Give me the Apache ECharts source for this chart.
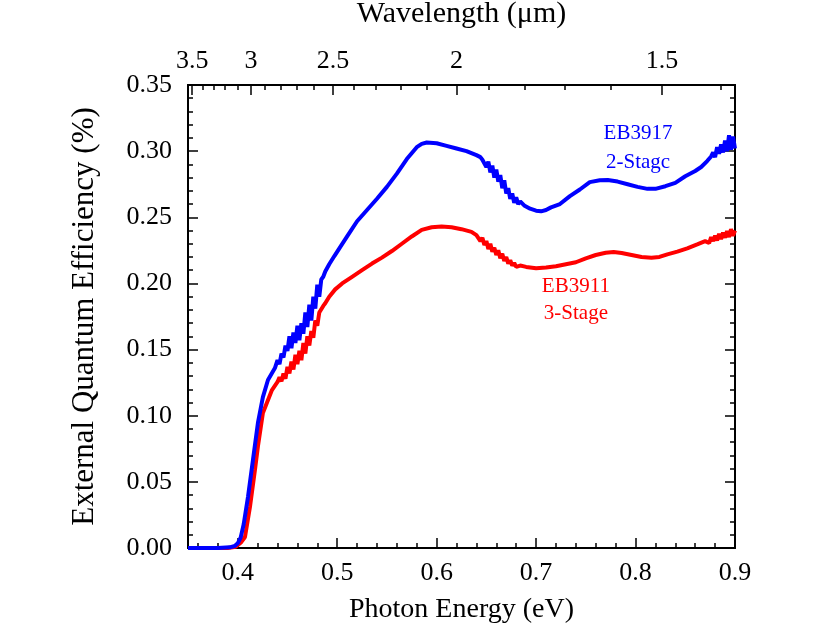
<!DOCTYPE html>
<html><head><meta charset="utf-8">
<script src="https://cdn.jsdelivr.net/npm/echarts@6/dist/echarts.min.js"></script>
<style>html,body{margin:0;padding:0;background:#fff}#c{width:840px;height:636px}</style>
</head><body><div id="c"></div>
<script>
// ---- tick definitions ----
const energyMajorTicks = [0.4, 0.5, 0.6, 0.7, 0.8, 0.9];
const energyMinorTicks = [0.36, 0.38, 0.42, 0.44, 0.46, 0.48, 0.52, 0.54, 0.56, 0.58, 0.62, 0.64, 0.66, 0.68, 0.72, 0.74, 0.76, 0.78, 0.82, 0.84, 0.86, 0.88];
const wavelengthMajor = [3.5, 3, 2.5, 2, 1.5];
const wavelengthMinor = [3.4, 3.3, 3.2, 3.1, 2.9, 2.8, 2.7, 2.6, 2.4, 2.3, 2.2, 2.1, 1.9, 1.8, 1.7, 1.6, 1.4];
const HC = 1.2398; // eV·µm

// ---- series data: [photon energy (eV), EQE (%)] ----
const eb3917 = [
[0.350,0.000],[0.380,0.000],[0.392,0.0005],[0.397,0.0015],[0.400,0.0035],[0.403,0.008],[0.406,0.018],
[0.4103,0.0385],[0.4153,0.0665],[0.4203,0.0945],[0.4253,0.1141],[0.4304,0.127],[0.4374,0.136],
[0.440,0.142],[0.442,0.139],[0.444,0.147],[0.446,0.144],[0.448,0.153],[0.450,0.149],[0.452,0.160],
[0.454,0.151],[0.456,0.163],[0.458,0.155],[0.460,0.168],[0.462,0.157],[0.464,0.170],[0.466,0.162],
[0.468,0.178],[0.470,0.167],[0.472,0.184],[0.474,0.172],[0.476,0.190],[0.478,0.181],[0.480,0.199],
[0.482,0.190],[0.484,0.203],[0.486,0.205],[0.488,0.209],
[0.492,0.2145],[0.497,0.2205],[0.503,0.2275],[0.510,0.2355],[0.520,0.2470],[0.530,0.2555],[0.540,0.2640],
[0.550,0.2730],[0.560,0.2830],[0.570,0.2940],[0.580,0.3030],[0.585,0.3055],[0.590,0.3065],[0.600,0.3060],
[0.610,0.3040],[0.620,0.3020],[0.630,0.3000],[0.640,0.2970],
[0.644,0.2955],[0.646,0.2935],[0.648,0.2950],[0.650,0.2880],[0.652,0.2920],[0.654,0.2840],[0.656,0.2890],
[0.658,0.2800],[0.660,0.2860],[0.662,0.2770],[0.664,0.2820],[0.666,0.2720],[0.668,0.2780],[0.670,0.2680],
[0.672,0.2720],[0.674,0.2640],[0.676,0.2680],[0.678,0.2610],[0.680,0.2650],[0.682,0.2600],[0.684,0.2620],
[0.688,0.2590],[0.694,0.2565],[0.700,0.2550],[0.705,0.2545],[0.710,0.2555],[0.715,0.2575],[0.724,0.2600],
[0.734,0.2660],[0.744,0.2710],[0.754,0.2766],[0.764,0.2780],[0.772,0.2782],[0.782,0.2770],[0.792,0.2750],
[0.802,0.2730],[0.812,0.2715],[0.820,0.2715],[0.830,0.2735],[0.840,0.2760],[0.850,0.2810],[0.860,0.2850],
[0.866,0.2880],[0.872,0.2925],[0.876,0.2960],
[0.878,0.2990],[0.880,0.2955],[0.882,0.3030],[0.884,0.2980],[0.886,0.3050],[0.888,0.2990],[0.890,0.3080],
[0.892,0.3000],[0.894,0.3120],[0.896,0.3010],[0.898,0.3110],[0.900,0.3020]
];
const eb3911 = [
[0.350,0.000],[0.390,0.000],[0.398,0.001],[0.403,0.004],[0.4073,0.0083],[0.4123,0.0310],[0.4173,0.0590],
[0.4203,0.0767],[0.4253,0.1020],[0.4344,0.1194],
[0.440,0.1255],[0.442,0.1290],[0.444,0.1260],[0.446,0.1320],[0.448,0.1280],[0.450,0.1370],[0.452,0.1320],
[0.454,0.1410],[0.456,0.1350],[0.458,0.1460],[0.460,0.1390],[0.462,0.1490],[0.464,0.1420],[0.466,0.1550],
[0.468,0.1470],[0.470,0.1600],[0.472,0.1530],[0.474,0.1640],[0.476,0.1590],[0.478,0.1720],[0.480,0.1680],
[0.482,0.1780],[0.484,0.1770],[0.486,0.1830],[0.488,0.1850],[0.492,0.1900],[0.498,0.1955],
[0.505,0.2000],[0.515,0.2050],[0.525,0.2100],[0.535,0.2150],[0.545,0.2195],[0.555,0.2245],[0.565,0.2300],
[0.575,0.2355],[0.585,0.2405],[0.595,0.2425],[0.605,0.2430],[0.615,0.2425],[0.625,0.2410],[0.635,0.2390],
[0.640,0.2365],[0.642,0.2355],[0.644,0.2320],[0.646,0.2345],[0.648,0.2290],[0.650,0.2320],[0.652,0.2260],
[0.654,0.2300],[0.656,0.2240],[0.658,0.2270],[0.660,0.2215],[0.662,0.2250],[0.664,0.2190],[0.666,0.2225],
[0.668,0.2170],[0.670,0.2200],[0.672,0.2150],[0.674,0.2175],[0.676,0.2135],[0.678,0.2155],[0.680,0.2125],
[0.684,0.2135],[0.690,0.2125],[0.700,0.2115],[0.710,0.2120],[0.720,0.2130],[0.730,0.2145],[0.740,0.2160],
[0.750,0.2190],[0.760,0.2215],[0.770,0.2232],[0.778,0.2237],[0.786,0.2230],[0.796,0.2215],[0.806,0.2200],
[0.816,0.2195],[0.824,0.2200],[0.832,0.2220],[0.842,0.2240],[0.852,0.2265],[0.862,0.2295],[0.870,0.2320],
[0.872,0.2335],[0.874,0.2305],[0.876,0.2350],[0.878,0.2320],[0.880,0.2360],[0.882,0.2325],[0.884,0.2375],
[0.886,0.2335],[0.888,0.2385],[0.890,0.2345],[0.892,0.2395],[0.894,0.2350],[0.896,0.2410],[0.898,0.2360],
[0.900,0.2400]
];
const blueLabel = ['EB3917', '2-Stagc'];
const redLabel = ['EB3911', '3-Stage'];

const FONT = '"Liberation Serif", "Times New Roman", serif';
const lineStyle = {color: '#000', width: 2};
const tickStyle = {color: '#000', width: 1.5};

function xAx(extra) {
  return Object.assign({
    type: 'value', min: 0.35, max: 0.9,
    splitLine: {show: false},
    axisLine: {show: true, onZero: false, lineStyle: lineStyle},
    axisTick: {show: true, inside: true, length: 9, lineStyle: tickStyle},
    axisLabel: {show: false}
  }, extra);
}
function yAx(extra) {
  return Object.assign({
    type: 'value', min: 0, max: 0.35, interval: 0.05,
    splitLine: {show: false},
    axisLine: {show: true, onZero: false, lineStyle: lineStyle},
    axisTick: {show: true, inside: true, length: 10, lineStyle: tickStyle},
    minorTick: {show: true, splitNumber: 5, length: 5, lineStyle: tickStyle},
    axisLabel: {show: false}
  }, extra);
}

const chart = echarts.init(document.getElementById('c'), null, {renderer: 'canvas'});
chart.setOption({
  animation: false,
  backgroundColor: '#fff',
  textStyle: {fontFamily: FONT, color: '#000'},
  grid: {left: 188, right: 105, top: 85, bottom: 88, containLabel: false, outerBoundsMode: 'none'},
  xAxis: [
    xAx({position: 'bottom',
      axisTick: {show: true, inside: true, length: 10, lineStyle: tickStyle, customValues: energyMajorTicks},
      axisLabel: {show: true, customValues: energyMajorTicks, margin: 12, fontSize: 26, fontFamily: FONT, color: '#000',
        formatter: v => v.toFixed(1)},
      name: 'Photon Energy (eV)', nameLocation: 'middle', nameGap: 48,
      nameTextStyle: {fontSize: 28, fontFamily: FONT, color: '#000'}}),
    xAx({position: 'bottom',
      axisTick: {show: true, inside: true, length: 5, lineStyle: tickStyle, customValues: energyMinorTicks}}),
    xAx({position: 'top',
      axisTick: {show: true, inside: true, length: 10, lineStyle: tickStyle, customValues: wavelengthMajor.map(l => HC / l)},
      axisLabel: {show: true, customValues: wavelengthMajor.map(l => HC / l), margin: 11, fontSize: 26, fontFamily: FONT, color: '#000',
        formatter: v => String(Math.round(HC / v * 10) / 10)},
      name: 'Wavelength (\u03bcm)', nameLocation: 'middle', nameGap: 56,
      nameTextStyle: {fontSize: 30, fontFamily: FONT, color: '#000'}}),
    xAx({position: 'top',
      axisTick: {show: true, inside: true, length: 5, lineStyle: tickStyle, customValues: wavelengthMinor.map(l => HC / l)}})
  ],
  yAxis: [
    yAx({position: 'left',
      axisLabel: {show: true, margin: 16, fontSize: 26, fontFamily: FONT, color: '#000', formatter: v => v.toFixed(2)},
      name: 'External Quantum Efficiency (%)', nameLocation: 'middle', nameGap: 88, nameRotate: 90,
      nameTextStyle: {fontSize: 31, fontFamily: FONT, color: '#000'}}),
    yAx({position: 'right'})
  ],
  series: [
    {
      name: 'EB3911 3-Stage', type: 'line', xAxisIndex: 0, yAxisIndex: 0,
      data: eb3911, showSymbol: false, symbol: 'none',
      lineStyle: {color: '#ff0000', width: 4}, itemStyle: {color: '#ff0000'},
      markPoint: {
        symbol: 'rect', symbolSize: 1, itemStyle: {color: 'rgba(0,0,0,0)'},
        label: {show: true, position: 'inside', color: '#ff0000', fontFamily: FONT, fontSize: 21, lineHeight: 27,
          formatter: redLabel.join('\n')},
        data: [{coord: [0.740, 0.1875]}]
      }
    },
    {
      name: 'EB3917 2-Stage', type: 'line', xAxisIndex: 0, yAxisIndex: 0,
      data: eb3917, showSymbol: false, symbol: 'none',
      lineStyle: {color: '#0000ff', width: 4}, itemStyle: {color: '#0000ff'},
      markPoint: {
        symbol: 'rect', symbolSize: 1, itemStyle: {color: 'rgba(0,0,0,0)'},
        label: {show: true, position: 'inside', color: '#0000ff', fontFamily: FONT, fontSize: 21, lineHeight: 29,
          formatter: blueLabel.join('\n')},
        data: [{coord: [0.8025, 0.3025]}]
      }
    }
  ]
});
</script>
</body></html>
